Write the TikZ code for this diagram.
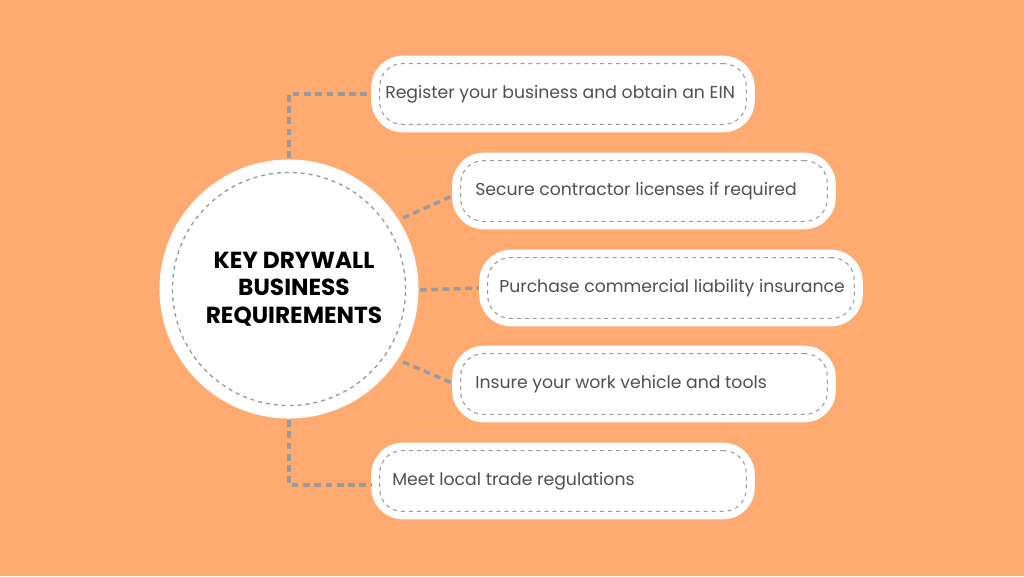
\documentclass[tikz,border=0pt]{standalone}
\usepackage{fontspec}
\setmainfont{Poppins}
\usetikzlibrary{positioning}
\definecolor{bgorange}{HTML}{FFAA70}
\definecolor{dashgray}{HTML}{9A9A9A}
\definecolor{txtgray}{HTML}{505050}

\begin{document}
\begin{tikzpicture}[x=0.02646cm,y=-0.02646cm,
  req/.style={shape=rectangle,rounded corners=24pt,fill=white,minimum width=385*0.75pt,minimum height=77*0.75pt},
  reqD/.style={shape=rectangle,rounded corners=17pt,draw=dashgray,dashed,thick,minimum width=368*0.75pt,minimum height=61*0.75pt},
  txt/.style={font=\fontsize{13}{15}\selectfont,text=txtgray,anchor=west,inner sep=0pt},
  link/.style={draw=dashgray,line width=2.6pt,dash pattern=on 5pt off 3.5pt}]
\fill[bgorange] (0,0) rectangle (1024,576);

% connectors first
\coordinate (T) at (289,158);
\coordinate (Tb) at (289,94);
\coordinate (Bt) at (289,420);
\coordinate (Bb) at (289,485);
\coordinate (C2) at (403,218);
\coordinate (C3) at (420,290);
\coordinate (C4) at (403,362);

% hub
\node[circle,fill=white,minimum size=260*0.75pt] (hub) at (289,289) {};
\node[circle,draw=dashgray,dashed,thick,line width=1pt,minimum size=234*0.75pt] (hubD) at (289,289) {};
\node[align=center,font=\fontsize{17.5}{20.5}\selectfont\bfseries] (title) at (294,289) {KEY DRYWALL\\BUSINESS\\REQUIREMENTS};

% boxes
\node[req] (s1) at (563,94) {};
\node[reqD] (d1) at (563,94) {};
\node[txt] (t1) at (385,94) {Register your business and obtain an EIN};
\node[req] (s2) at (644,191) {};
\node[reqD] (d2) at (644,191) {};
\node[txt] (t2) at (475,191) {Secure contractor licenses if required};
\node[req] (s3) at (671,288) {};
\node[reqD] (d3) at (671,288) {};
\node[txt] (t3) at (499,288) {Purchase commercial liability insurance};
\node[req] (s4) at (644,384) {};
\node[reqD] (d4) at (644,384) {};
\node[txt] (t4) at (475,384) {Insure your work vehicle and tools};
\node[req] (s5) at (563,481) {};
\node[reqD] (d5) at (563,481) {};
\node[txt] (t5) at (392,481) {Meet local trade regulations};

\draw[link] (T) -- (Tb) -- (s1.west);
\draw[link] (Bt) -- (Bb) -- (s5.west |- Bb);
\draw[link] (C2) -- (452,196);
\draw[link] (C3) -- (s3.west);
\draw[link] (C4) -- (452,383);
\end{tikzpicture}
\end{document}
